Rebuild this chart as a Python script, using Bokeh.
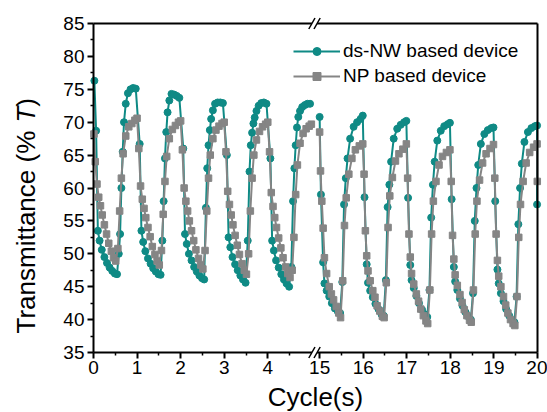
import math
from bokeh.plotting import figure
from bokeh.models import Range1d, FixedTicker, Legend, LegendItem, Label, Arrow, LinearAxis
from bokeh.embed import file_html
from bokeh.resources import INLINE

# ---------------- data ----------------
x_tick_cycles = [0, 1, 2, 3, 4, 15, 16, 17, 18, 19, 20]
x_minor_cycles = [0.5, 1.5, 2.5, 3.5, 4.5, 15.5, 16.5, 17.5, 18.5, 19.5]
y_ticks = [35, 40, 45, 50, 55, 60, 65, 70, 75, 80, 85]
y_minor = [37.5, 42.5, 47.5, 52.5, 57.5, 62.5, 67.5, 72.5, 77.5, 82.5]

seg1_cycles = [0, 1, 2, 3, 4]
seg2_cycles = [15, 16, 17, 18, 19]

# sampling times within a cycle
nw_phase_seg1 = [0.06, 0.10, 0.14, 0.19, 0.25, 0.31, 0.37, 0.43, 0.49, 0.54,
                 0.58, 0.61, 0.64, 0.67, 0.70, 0.74, 0.79, 0.85, 0.91, 0.97]
np_phase_seg1 = [0.04, 0.08, 0.12, 0.16, 0.20, 0.25, 0.30, 0.35, 0.41, 0.46,
                 0.51, 0.56, 0.60, 0.64, 0.68, 0.74, 0.81, 0.88, 0.95, 1.00]
nw_phase_seg2 = [0.03, 0.08, 0.11, 0.16, 0.22, 0.28, 0.35, 0.42, 0.47, 0.52,
                 0.56, 0.60, 0.64, 0.70, 0.78, 0.86, 0.94, 0.99]
np_phase_seg2 = [0.02, 0.05, 0.08, 0.11, 0.16, 0.22, 0.27, 0.32, 0.38, 0.44,
                 0.48, 0.53, 0.57, 0.61, 0.67, 0.74, 0.82, 0.91, 0.99]

# ds-NW based device (%T)
nw_start = (0.02, 76.3)
nw_c0 = [68.7, 53.5, 52.0, 50.6, 49.5, 48.6, 47.9, 47.4, 47.0, 46.9, 50.0, 53.0, 60.0, 65.5, 70.0, 72.8, 74.4, 75.0, 75.2, 75.1]
nw_c1 = [66.7, 53.5, 51.8, 50.4, 49.3, 48.5, 47.8, 47.3, 46.9, 46.8, 52.0, 58.0, 64.5, 68.5, 71.5, 73.3, 74.3, 74.2, 74.0, 73.7]
nw_c2 = [66.0, 53.0, 51.5, 50.0, 49.0, 48.0, 47.3, 46.7, 46.3, 46.1, 57.0, 63.0, 66.5, 68.8, 70.5, 71.8, 72.8, 73.0, 73.0, 72.9]
nw_c3 = [65.0, 52.5, 51.0, 49.5, 48.4, 47.5, 46.7, 46.1, 45.6, 52.0, 62.5, 66.5, 68.4, 69.8, 70.7, 71.7, 72.5, 72.9, 73.0, 72.8]
nw_c4 = [64.5, 52.0, 50.5, 49.0, 47.9, 46.9, 46.1, 45.5, 45.0, 48.0, 58.0, 63.0, 66.5, 69.2, 70.8, 71.7, 72.3, 72.6, 72.8, 72.8]
nw_seg2_start = (15.0, 70.8)
nw_c15 = [59.0, 48.7, 45.5, 44.4, 43.5, 42.5, 41.7, 41.2, 41.0, 45.7, 57.5, 61.5, 64.5, 67.5, 69.3, 70.0, 70.5, 71.0]
nw_c16 = [58.6, 48.4, 45.6, 44.4, 43.4, 42.4, 41.6, 40.8, 40.6, 46.0, 57.1, 60.5, 64.0, 67.5, 69.0, 69.6, 70.0, 70.2]
nw_c17 = [58.5, 48.3, 46.0, 44.8, 43.6, 42.5, 41.5, 40.8, 40.4, 44.5, 55.5, 60.5, 64.0, 67.2, 68.7, 69.4, 69.7, 69.9]
nw_c18 = [58.3, 48.0, 45.8, 44.5, 43.2, 42.1, 41.1, 40.4, 40.0, 44.0, 55.0, 60.0, 63.5, 66.7, 68.2, 68.8, 69.1, 69.2]
nw_c19 = [58.0, 47.6, 45.5, 44.0, 42.8, 41.6, 40.6, 39.9, 39.6, 43.5, 54.5, 60.0, 63.7, 67.0, 68.5, 69.1, 69.4, 69.5]
nw_end = (19.99, 57.5)

# NP based device (%T)
np_start = (0.01, 68.2)
np_c0 = [64.0, 60.6, 58.6, 57.3, 55.9, 54.4, 53.0, 51.6, 50.4, 49.4, 48.9, 50.8, 56.5, 61.5, 65.2, 67.9, 69.3, 69.8, 70.3, 70.6]
np_c1 = [66.0, 60.3, 58.3, 56.9, 55.5, 54.0, 52.6, 51.1, 49.9, 48.9, 48.3, 50.5, 56.0, 61.0, 64.8, 67.5, 68.9, 69.5, 70.0, 70.2]
np_c2 = [65.8, 60.0, 58.0, 56.5, 55.0, 53.5, 52.0, 50.6, 49.3, 48.3, 47.7, 50.5, 56.5, 61.5, 65.0, 67.5, 68.8, 69.4, 69.8, 70.0]
np_c3 = [65.5, 59.5, 57.5, 55.9, 54.4, 52.8, 51.3, 49.9, 48.5, 47.5, 46.9, 50.0, 56.5, 61.5, 65.0, 67.3, 68.6, 69.3, 69.7, 70.0]
np_c4 = [65.5, 59.3, 57.2, 55.5, 54.0, 52.4, 50.9, 49.4, 48.0, 47.0, 46.4, 47.5, 52.5, 59.0, 63.5, 66.8, 68.3, 69.0, 69.4, 69.7]
np_seg2_start = (15.0, 68.5)
np_c15 = [62.6, 58.0, 53.9, 49.4, 47.0, 45.0, 43.9, 43.0, 42.0, 41.0, 40.3, 45.9, 54.3, 58.5, 62.1, 64.5, 65.8, 66.4, 66.7]
np_c16 = [62.1, 53.5, 49.7, 47.4, 45.9, 44.4, 43.4, 42.1, 41.3, 40.5, 40.3, 45.6, 54.0, 58.8, 61.6, 64.1, 65.2, 65.9, 66.7]
np_c17 = [61.5, 53.0, 49.5, 47.0, 45.4, 43.9, 42.8, 41.6, 40.6, 39.8, 39.4, 44.5, 53.0, 58.0, 61.0, 63.5, 64.8, 65.4, 65.8]
np_c18 = [61.0, 52.8, 49.2, 46.8, 45.2, 43.8, 42.6, 41.5, 40.6, 39.9, 39.6, 44.5, 53.0, 58.0, 61.2, 63.8, 65.2, 66.0, 66.6]
np_c19 = [61.5, 53.0, 49.0, 46.6, 45.0, 43.5, 42.2, 41.0, 40.0, 39.4, 39.1, 43.5, 52.5, 57.5, 61.0, 63.8, 65.4, 66.2, 66.7]
np_end = (19.995, 61.0)

# ---------------- broken x axis mapping ----------------
SEG1_END = 5.0
SEG2_START = 15.0
SEG2_POS = 5.19          # where cycle 15 sits on the continuous axis
X_MAX_POS = 20.0 - SEG2_START + SEG2_POS
Y_MIN, Y_MAX = 35, 85
W, H = 547, 412
FL, FR, FT, FB = 93, 537, 23, 352          # plot box edges in the page
PX_X = (FR - FL) / X_MAX_POS
PX_Y = (FB - FT) / (Y_MAX - Y_MIN)


def to_disp(x):
    return x if x <= SEG1_END else x - SEG2_START + SEG2_POS


def dx(px):
    return px / PX_X


def dy(px):
    return px / PY if False else px / PX_Y


def build(start, seg1_vals, ph1, seg2_start, seg2_vals, ph2, end):
    xs, ys = [start[0]], [start[1]]
    for c, vals in zip(seg1_cycles, seg1_vals):
        xs += [c + p for p in ph1]
        ys += list(vals)
    xs.append(float("nan"))
    ys.append(float("nan"))
    xs.append(seg2_start[0])
    ys.append(seg2_start[1])
    for c, vals in zip(seg2_cycles, seg2_vals):
        xs += [c + p for p in ph2]
        ys += list(vals)
    xs.append(end[0])
    ys.append(end[1])
    return [to_disp(v) if v == v else v for v in xs], ys


nw_x, nw_y = build(nw_start, [nw_c0, nw_c1, nw_c2, nw_c3, nw_c4], nw_phase_seg1,
                   nw_seg2_start, [nw_c15, nw_c16, nw_c17, nw_c18, nw_c19], nw_phase_seg2, nw_end)
np_x, np_y = build(np_start, [np_c0, np_c1, np_c2, np_c3, np_c4], np_phase_seg1,
                   np_seg2_start, [np_c15, np_c16, np_c17, np_c18, np_c19], np_phase_seg2, np_end)

TEAL = "#0f8a85"
GRAY = "#858585"
FONT = "Liberation Sans"

# the frame covers the whole page; axes are pinned with fixed_location
p = figure(width=W, height=H, output_backend="svg", toolbar_location=None,
           x_range=Range1d(-dx(FL), X_MAX_POS + dx(W - FR)),
           y_range=Range1d(Y_MIN - dy(H - FB), Y_MAX + dy(FT)),
           x_axis_location=None, y_axis_location=None, min_border=0)
p.background_fill_color = "white"
p.border_fill_color = "white"
p.outline_line_color = None
p.xgrid.visible = False
p.ygrid.visible = False

nw_line = p.line(nw_x, nw_y, line_color=TEAL, line_width=2)
nw_pts = p.scatter([v for v in nw_x if v == v], [v for v in nw_y if v == v],
                   marker="circle", size=7, fill_color=TEAL, line_color=TEAL)
np_line = p.line(np_x, np_y, line_color=GRAY, line_width=2)
np_pts = p.scatter([v for v in np_x if v == v], [v for v in np_y if v == v],
                   marker="square", size=6.5, fill_color=GRAY, line_color=GRAY)

tick_pos = [to_disp(t) for t in x_tick_cycles]


def style(ax):
    ax.axis_line_width = 2
    ax.axis_line_color = "black"
    ax.major_tick_line_width = 2
    ax.minor_tick_line_width = 1.5
    ax.major_tick_in = 0
    ax.major_tick_out = 6
    ax.minor_tick_in = 0
    ax.minor_tick_out = 3
    ax.major_label_text_font = FONT
    ax.major_label_text_font_size = "19px"
    ax.major_label_text_color = "black"


xaxis = LinearAxis(fixed_location=Y_MIN, bounds=(0, X_MAX_POS),
                   ticker=FixedTicker(ticks=tick_pos, minor_ticks=[to_disp(t) for t in x_minor_cycles]),
                   major_label_overrides={pos: str(c) for pos, c in zip(tick_pos, x_tick_cycles)},
                   major_label_standoff=2)
style(xaxis)
p.add_layout(xaxis, "below")

yaxis = LinearAxis(fixed_location=0, bounds=(Y_MIN, Y_MAX),
                   ticker=FixedTicker(ticks=y_ticks, minor_ticks=y_minor),
                   major_label_standoff=3)
style(yaxis)
p.add_layout(yaxis, "left")

topaxis = LinearAxis(fixed_location=Y_MAX, bounds=(0, X_MAX_POS), ticker=FixedTicker(ticks=[]),
                     axis_line_width=2, axis_line_color="black")
p.add_layout(topaxis, "above")
rightaxis = LinearAxis(fixed_location=X_MAX_POS, bounds=(Y_MIN, Y_MAX), ticker=FixedTicker(ticks=[]),
                       axis_line_width=2, axis_line_color="black")
p.add_layout(rightaxis, "right")

# axis titles
FS = 26
lab_x = -dx(FL - 25)
lab_y0 = Y_MAX - dy(333 - FT)
common = dict(angle=math.pi / 2, text_align="left", text_baseline="middle",
              text_font=FONT, text_font_size=f"{FS}px", text_color="black")
p.add_layout(Label(x=lab_x, y=lab_y0, text="Transmittance (% ", **common))
p.add_layout(Label(x=lab_x, y=lab_y0 + dy(8.113 * FS), text="T", text_font_style="italic", **common))
p.add_layout(Label(x=lab_x, y=lab_y0 + dy(8.724 * FS), text=")", **common))
p.add_layout(Label(x=dx(315 - FL), y=Y_MAX - dy(396 - FT), text="Cycle(s)",
                   text_align="center", text_baseline="alphabetic",
                   text_font=FONT, text_font_size=f"{FS}px", text_color="black"))

# axis-break marks
BRK = dx(314 - FL)
for yb in (Y_MIN, Y_MAX):
    p.add_layout(Arrow(x_start=BRK - dx(2.6), y_start=yb, x_end=BRK + dx(2.6), y_end=yb,
                       end=None, line_color="white", line_width=5, level="overlay"))
    for off in (-2.6, 2.6):
        p.add_layout(Arrow(x_start=BRK + dx(off - 3.1), y_start=yb - dy(5.5),
                           x_end=BRK + dx(off + 3.1), y_end=yb + dy(5.5),
                           end=None, line_color="black", line_width=1.5, level="overlay"))

legend = Legend(items=[LegendItem(label="ds-NW based device", renderers=[nw_line, nw_pts]),
                       LegendItem(label="NP based device", renderers=[np_line, np_pts])],
                location=(293, H - 87), orientation="vertical",
                glyph_width=47, glyph_height=20, label_height=20, label_standoff=3,
                spacing=3, padding=0, margin=0, border_line_color=None,
                background_fill_alpha=0, label_text_font=FONT,
                label_text_font_size="19px", label_text_color="black")
p.add_layout(legend)

open("out.html", "w").write(file_html(p, INLINE))
